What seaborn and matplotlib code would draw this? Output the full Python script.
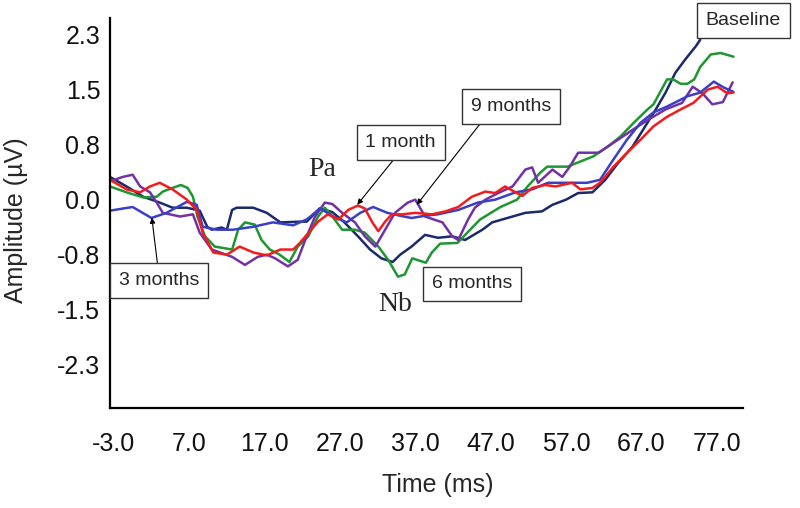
import matplotlib
matplotlib.use("Agg")
import matplotlib.pyplot as plt
import seaborn as sns

# Amplitude traces (time in ms, amplitude in uV)
baseline_t = [-3.5, -1.3, 0.9, 3.1, 4.8, 6.7, 8.4, 9.4, 10.0, 11.3, 12.0, 12.7, 13.3, 15.5, 17.3,
              19.1, 21.7, 22.6, 24.3, 26.0, 27.5, 29.4, 31.0, 32.5, 34.0, 35.0, 36.5, 38.3, 40.0, 41.9,
              43.6, 45.9, 47.2, 49.9, 51.6, 53.8, 55.2, 57.0, 58.6, 60.5, 62.2, 63.9, 65.8, 67.5, 68.9,
              70.2, 71.5, 72.8, 74.2, 74.8]
baseline_v = [0.31, 0.18, 0.04, -0.04, -0.11, -0.11, -0.15, -0.37, -0.41, -0.38, -0.41, -0.14, -0.11, -0.11, -0.18,
              -0.31, -0.30, -0.30, -0.12, -0.17, -0.30, -0.50, -0.68, -0.80, -0.85, -0.75, -0.64, -0.48, -0.52, -0.50,
              -0.55, -0.41, -0.31, -0.23, -0.18, -0.16, -0.07, 0.0, 0.09, 0.10, 0.27, 0.50, 0.72, 1.00, 1.23,
              1.46, 1.73, 1.91, 2.09, 2.18]

m1_t = [-3.5, -1.3, 0.5, 1.8, 3.1, 4.8, 6.7, 8.0, 8.8, 10.2, 12.0, 13.7, 15.5, 17.3, 19.1,
        20.8, 21.7, 22.6, 24.1, 25.4, 26.8, 28.1, 29.4, 30.3, 31.3, 32.1, 33.0, 33.9, 35.3, 37.0,
        39.2, 41.0, 42.7, 44.5, 46.3, 47.6, 48.9, 50.3, 51.2, 52.5, 54.2, 55.6, 57.8, 58.9, 60.5,
        61.5, 63.3, 65.1, 66.9, 68.6, 70.4, 72.2, 73.9, 75.8, 77.1, 78.4, 79.2]
m1_v = [0.27, 0.14, 0.10, 0.18, 0.23, 0.14, 0.0, -0.14, -0.45, -0.72, -0.75, -0.64, -0.72, -0.76, -0.68,
        -0.68, -0.59, -0.48, -0.30, -0.20, -0.27, -0.14, -0.08, -0.12, -0.31, -0.43, -0.30, -0.20, -0.20, -0.18,
        -0.20, -0.16, -0.10, 0.04, 0.11, 0.09, 0.18, 0.10, 0.05, 0.16, 0.20, 0.18, 0.23, 0.14, 0.16,
        0.23, 0.45, 0.64, 0.82, 1.00, 1.13, 1.23, 1.32, 1.50, 1.54, 1.45, 1.46]

m3_t = [-3.5, -0.5, 2.0, 4.0, 6.7, 8.0, 8.8, 10.7, 12.8, 15.5, 18.1, 20.8, 22.6, 24.4, 26.1,
        27.9, 29.7, 31.4, 33.3, 35.0, 36.5, 38.3, 40.0, 42.7, 45.3, 47.6, 50.3, 52.5, 54.6, 57.8,
        59.8, 61.5, 63.3, 65.1, 66.9, 68.6, 70.4, 73.1, 74.8, 76.6, 77.9, 79.2]
m3_v = [-0.15, -0.10, -0.25, -0.18, -0.03, -0.07, -0.37, -0.41, -0.41, -0.37, -0.31, -0.35, -0.27, -0.12, -0.23,
        -0.31, -0.18, -0.10, -0.18, -0.22, -0.25, -0.22, -0.20, -0.14, -0.04, 0.0, 0.10, 0.14, 0.23, 0.23,
        0.23, 0.27, 0.55, 0.82, 1.05, 1.19, 1.27, 1.41, 1.46, 1.61, 1.53, 1.47]

m6_t = [-3.5, -1.3, 0.9, 2.7, 3.5, 4.8, 5.9, 6.8, 7.5, 8.1, 9.1, 10.4, 12.7, 13.5, 14.4,
        15.7, 16.6, 17.7, 19.0, 20.3, 21.4, 22.8, 24.1, 25.0, 26.0, 27.3, 29.0, 30.3, 32.1, 33.4,
        34.7, 35.6, 36.6, 38.4, 39.2, 40.3, 42.6, 43.9, 45.6, 48.3, 50.5, 51.9, 53.6, 54.5, 57.2,
        60.6, 62.5, 64.2, 66.0, 67.8, 68.6, 70.4, 71.2, 72.2, 73.1, 74.0, 74.8, 76.2, 77.5, 79.2]
m6_v = [0.18, 0.10, 0.03, 0.04, 0.11, 0.16, 0.20, 0.16, 0.04, -0.23, -0.50, -0.64, -0.68, -0.41, -0.31,
        -0.34, -0.55, -0.68, -0.75, -0.85, -0.64, -0.50, -0.23, -0.11, -0.23, -0.41, -0.41, -0.45, -0.64, -0.82,
        -1.05, -1.02, -0.80, -0.86, -0.72, -0.60, -0.59, -0.45, -0.27, -0.10, 0.0, 0.18, 0.37, 0.45, 0.45,
        0.59, 0.72, 0.86, 1.05, 1.23, 1.30, 1.64, 1.64, 1.58, 1.58, 1.64, 1.81, 1.98, 2.00, 1.95]

m9_t = [-3.5, -1.8, -0.5, 0.5, 1.8, 2.7, 3.5, 5.8, 7.5, 8.4, 10.0, 12.7, 14.4, 16.1, 17.3,
        18.4, 20.1, 21.4, 22.4, 23.7, 25.0, 26.0, 27.3, 29.0, 30.3, 31.7, 33.0, 34.3, 36.0, 37.0,
        38.3, 40.6, 41.9, 42.7, 44.0, 44.9, 46.3, 48.0, 49.9, 51.6, 52.5, 53.3, 55.2, 56.5, 57.5,
        58.6, 61.3, 63.5, 65.8, 67.9, 70.2, 72.4, 73.8, 75.1, 76.4, 77.8, 79.1]
m9_v = [0.25, 0.31, 0.34, 0.18, 0.10, -0.04, -0.18, -0.23, -0.20, -0.45, -0.68, -0.78, -0.89, -0.78, -0.75,
        -0.80, -0.91, -0.82, -0.55, -0.23, -0.04, -0.06, -0.18, -0.31, -0.50, -0.64, -0.41, -0.18, -0.04, 0.0,
        -0.23, -0.31, -0.50, -0.55, -0.27, -0.11, 0.0, 0.09, 0.18, 0.41, 0.44, 0.23, 0.41, 0.31, 0.45,
        0.64, 0.64, 0.79, 0.95, 1.09, 1.23, 1.32, 1.54, 1.45, 1.30, 1.33, 1.60]

xtick_vals = [-3, 7, 17, 27, 37, 47, 57, 67, 77]
xtick_labels = ["-3.0", "7.0", "17.0", "27.0", "37.0", "47.0", "57.0", "67.0", "77.0"]
ytick_vals = [2.25, 1.5, 0.75, 0.0, -0.75, -1.5, -2.25]
ytick_labels = ["2.3", "1.5", "0.8", "0.0", "-0.8", "-1.5", "-2.3"]

sns.set_style("white")
plt.rcParams['font.family'] = ['Liberation Sans', 'DejaVu Sans']

fig, ax = plt.subplots(figsize=(8, 5.08), dpi=100)
fig.subplots_adjust(left=0.1375, right=0.929, bottom=0.197, top=0.965)

traces = [
    (baseline_t, baseline_v, "#1b2a6b"),
    (m6_t, m6_v, "#1e9632"),
    (m9_t, m9_v, "#7232a5"),
    (m3_t, m3_v, "#3b3fc6"),
    (m1_t, m1_v, "#f21c1c"),
]
for t, v, c in traces:
    sns.lineplot(x=t, y=v, ax=ax, color=c, lw=1.8, sort=False, estimator=None)

ax.set_xlim(-3.5, 80.5)
ax.set_ylim(-2.84, 2.48)
ax.set_xticks(xtick_vals)
ax.set_xticklabels(xtick_labels)
ax.set_yticks(ytick_vals)
ax.set_yticklabels(ytick_labels)
ax.tick_params(axis="both", length=0, labelsize=18, colors="#111111")
ax.tick_params(axis="x", pad=17)
ax.tick_params(axis="y", pad=7)

sns.despine(ax=ax)
for side in ["left", "bottom"]:
    ax.spines[side].set_color("black")
    ax.spines[side].set_linewidth(1.6)

ax.set_xlabel("Time (ms)", fontsize=18)
ax.set_ylabel("Amplitude (\u00b5V)", fontsize=18)
ax.xaxis.set_label_coords(0.517, -0.167)
ax.yaxis.set_label_coords(-0.13, 0.482)

# labelled boxes
box = dict(boxstyle="square,pad=0.45", fc="white", ec="#333333", lw=1)
arrow = dict(arrowstyle="-|>", color="black", lw=0.8, mutation_scale=8, shrinkA=0, shrinkB=0)

ax.annotate("Baseline", xy=(80.5, 2.44), ha="center", va="center", fontsize=14,
            bbox=box, annotation_clip=False)
ax.annotate("6 months", xy=(44.5, -1.15), ha="center", va="center", fontsize=14, bbox=box)
ax.annotate("9 months", xy=(37.2, -0.07), xytext=(49.7, 1.27), ha="center", va="center",
            fontsize=14, bbox=box, arrowprops=dict(arrow, relpos=(0.2, 0)))
ax.annotate("1 month", xy=(29.3, -0.07), xytext=(35.05, 0.78), ha="center", va="center",
            fontsize=14, bbox=box, arrowprops=dict(arrow, relpos=(0.5, 0)))
ax.annotate("3 months", xy=(2.05, -0.245), xytext=(3.04, -1.105), ha="center", va="center",
            fontsize=14, bbox=box, arrowprops=dict(arrow, relpos=(0.49, 1)))

ax.text(24.6, 0.41, "Pa", fontsize=20, ha="center", va="center", family="Liberation Serif")
ax.text(34.3, -1.43, "Nb", fontsize=20, ha="center", va="center", family="Liberation Serif")

plt.savefig("out.png", dpi=100)
plt.close()
